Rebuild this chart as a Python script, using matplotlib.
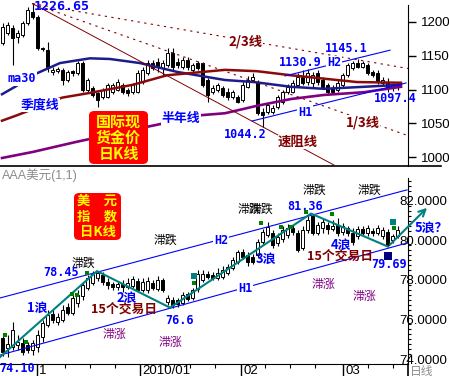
import numpy as np
import matplotlib.pyplot as plt
from matplotlib.patches import FancyBboxPatch
from matplotlib.lines import Line2D

W, H = 449, 376

# gold daily candles (top panel), one per trading day
gold_open = [1169, 1183, 1191, 1177, 1180, 1198, 1214, 1207, 1161, 1158,
             1126, 1128, 1129, 1114, 1127, 1124, 1139, 1099, 1102, 1095,
             1089, 1089, 1096, 1099, 1107, 1099, 1096, 1096, 1111, 1124,
             1139, 1140, 1132, 1136, 1154, 1140, 1133, 1143, 1129, 1139,
             1139, 1114, 1096, 1099, 1102, 1096, 1089, 1089, 1085, 1104,
             1114, 1111, 1067, 1067, 1067, 1074, 1082, 1096, 1096, 1107,
             1118, 1111, 1110, 1124, 1114, 1107, 1102, 1099, 1107, 1121,
             1132, 1139, 1133, 1136, 1126, 1124, 1110, 1111, 1102, 1104]
gold_close = [1192, 1195, 1176, 1183, 1198, 1217, 1207, 1161, 1160, 1133,
              1129, 1130, 1114, 1126, 1124, 1139, 1099, 1114, 1092, 1085,
              1099, 1107, 1107, 1111, 1096, 1095, 1107, 1124, 1129, 1139,
              1132, 1133, 1139, 1154, 1133, 1136, 1143, 1133, 1136, 1132,
              1107, 1092, 1102, 1107, 1092, 1089, 1096, 1082, 1107, 1114,
              1118, 1065, 1062, 1077, 1073, 1089, 1096, 1104, 1110, 1118,
              1110, 1124, 1121, 1111, 1104, 1096, 1096, 1110, 1121, 1136,
              1139, 1133, 1139, 1124, 1121, 1111, 1114, 1104, 1107, 1108]
gold_high = [1198, 1199, 1195, 1188, 1201, 1221, 1226.65, 1210, 1163, 1170,
             1133, 1133, 1131, 1129, 1129, 1142, 1142, 1117, 1105, 1096,
             1102, 1110, 1109, 1115, 1109, 1102, 1109, 1129, 1133, 1143,
             1143, 1146, 1143, 1161, 1161, 1146, 1148, 1148, 1139, 1142,
             1140, 1117, 1107, 1109, 1105, 1102, 1099, 1092, 1111, 1120,
             1125, 1114, 1073, 1080, 1077, 1092, 1099, 1108, 1114, 1124,
             1129, 1130.9, 1126, 1129, 1118, 1109, 1107, 1114, 1124, 1139,
             1142, 1145.1, 1142, 1139, 1129, 1129, 1118, 1117, 1109, 1111]
gold_low = [1166, 1180, 1136, 1169, 1177, 1195, 1204, 1158, 1157, 1126,
            1122, 1124, 1107, 1111, 1120, 1121, 1096, 1095, 1089, 1074,
            1086, 1088, 1094, 1098, 1094, 1090, 1094, 1095, 1108, 1121,
            1129, 1126, 1121, 1133, 1129, 1132, 1130, 1129, 1126, 1129,
            1104, 1082, 1094, 1096, 1089, 1085, 1086, 1080, 1082, 1102,
            1111, 1062, 1044.2, 1064, 1064, 1071, 1079, 1094, 1095, 1104,
            1107, 1107, 1104, 1107, 1102, 1094, 1095, 1097, 1104, 1118,
            1129, 1132, 1131, 1121, 1118, 1108, 1107, 1096, 1097.4, 1100]

# moving averages: (day index, price)
ma30_x = [-0.1, 2.5, 6.9, 11.5, 17.5, 21.5, 27.5, 34.9, 44.5, 50.3, 57.7, 64.3, 72.3, 79.7]
ma30_y = [1093, 1104, 1124, 1139, 1146, 1145, 1139, 1126, 1114, 1111, 1104, 1101, 1104, 1107]
ma_quarter_x = [-0.1, 2.9, 11.9, 17.5, 26.1, 32.9, 44.5, 50.9, 57.7, 64.3, 70.9, 79.7]
ma_quarter_y = [1054, 1062, 1088, 1095, 1107, 1121, 1129, 1127, 1121, 1116, 1111, 1110]
ma_half_x = [-0.1, 6.1, 14.9, 28.9, 30.9, 39.5, 44.5, 50.9, 57.7, 64.3, 72.3, 79.7]
ma_half_y = [999, 1008, 1023, 1045, 1048, 1062, 1065, 1076, 1086, 1092, 1096, 1104]

# gold trend lines
fan_x = [6, 81.1]
fan_23 = [1226.65, 1131]
fan_13 = [1226.65, 1032]
resist_x = [6, 66.3]
resist_y = [1226.65, 988.6]
gold_h2_x = [56.5, 77.5]
gold_h2_y = [1120, 1158]
gold_h1_x = [49.9, 80.7]
gold_h1_y = [1053.5, 1109.6]
gold_ticks = [1000, 1050, 1100, 1150, 1200]

# US dollar index daily candles (bottom panel)
usd_open = [75.06, 74.56, 74.61, 74.71, 74.81, 74.71, 74.46, 74.61, 75.11, 75.72,
            76.28, 75.87, 75.97, 76.63, 76.33, 76.84, 77.19, 77.59, 77.85, 78.10,
            78.25, 77.90, 77.80, 77.65, 77.80, 77.65, 77.70, 77.95, 77.49, 77.49,
            77.85, 77.54, 78.00, 76.89, 76.99, 76.99, 76.84, 77.29, 77.09, 77.54,
            78.00, 78.30, 78.25, 78.10, 78.15, 78.35, 78.61, 78.91, 79.42, 79.27,
            79.16, 79.27, 79.92, 80.28, 80.38, 79.87, 80.08, 80.28, 80.63, 80.38,
            79.62, 80.53, 81.24, 80.38, 80.63, 80.78, 80.58, 80.78, 80.43, 80.63,
            80.38, 80.23, 80.58, 80.38, 80.48, 80.38, 80.23, 80.43, 80.03, 80.23]
usd_close = [74.35, 74.76, 75.47, 74.86, 74.35, 74.46, 74.81, 75.22, 75.82, 76.23,
             75.97, 76.13, 76.48, 76.33, 77.09, 77.24, 77.75, 78.10, 78.30, 78.35,
             77.90, 77.75, 77.65, 77.80, 77.65, 77.85, 78.05, 77.49, 77.90, 77.95,
             77.59, 78.00, 77.49, 77.09, 76.73, 76.78, 77.24, 77.04, 77.49, 78.30,
             78.30, 78.15, 78.10, 78.35, 78.51, 78.66, 79.01, 79.42, 79.16, 78.91,
             78.91, 79.92, 80.43, 80.68, 79.77, 80.18, 80.53, 80.63, 80.43, 79.52,
             80.53, 81.04, 80.38, 80.78, 80.94, 80.58, 80.73, 80.38, 80.73, 80.38,
             79.92, 80.58, 80.38, 80.63, 80.38, 80.63, 80.53, 79.77, 80.23, 80.53]
usd_high = [75.32, 75.22, 75.87, 75.22, 75.06, 74.86, 74.96, 75.47, 75.97, 76.48,
            76.48, 76.33, 76.73, 76.84, 77.24, 77.49, 77.90, 78.25, 78.43, 78.45,
            78.40, 78.10, 77.90, 77.90, 78.00, 78.10, 78.20, 78.10, 78.10, 78.15,
            78.00, 78.20, 78.10, 77.24, 77.14, 77.09, 77.39, 77.39, 77.59, 78.51,
            78.51, 78.45, 78.40, 78.61, 78.71, 78.81, 79.16, 79.52, 79.57, 79.42,
            79.32, 80.08, 80.58, 80.94, 80.53, 80.38, 80.73, 80.83, 80.78, 80.53,
            80.73, 81.24, 81.36, 80.94, 81.14, 80.94, 81.04, 81.14, 80.89, 80.73,
            80.63, 80.73, 80.73, 80.78, 80.63, 80.78, 80.68, 80.58, 80.33, 80.73]
usd_low = [74.15, 74.10, 74.46, 74.46, 74.20, 74.30, 74.20, 74.35, 74.86, 75.62,
           75.82, 75.72, 75.87, 76.23, 76.23, 76.63, 76.99, 77.49, 77.75, 77.95,
           77.75, 77.54, 77.49, 77.49, 77.39, 77.54, 77.59, 77.39, 77.39, 77.34,
           77.49, 77.44, 77.39, 76.73, 76.60, 76.63, 76.73, 76.94, 76.99, 77.39,
           77.90, 78.05, 78.00, 78.00, 78.05, 78.25, 78.51, 78.81, 79.06, 78.71,
           78.81, 79.16, 79.82, 80.18, 79.62, 79.72, 79.92, 80.13, 80.28, 79.42,
           79.52, 80.38, 80.28, 80.28, 80.38, 80.33, 80.48, 80.23, 80.28, 80.23,
           79.77, 80.08, 80.23, 80.23, 80.23, 80.28, 80.08, 79.69, 79.87, 80.13]

# wave count line and channel
wave_x = [-0.5, 18.9, 33.5, 61.7, 77.1]
wave_y = [74.10, 78.45, 76.60, 81.36, 79.69]
wave5_end = (85.3, 81.75)
usd_h2_x = [-0.5, 80.9]
usd_h2_y = [77.09, 82.56]
usd_h1_x = [-0.5, 80.9]
usd_h1_y = [74.20, 79.87]
green_x = [0.5, 4.7, 13.9, 14.9, 16.9, 38.3, 51.7, 55.7, 57.7, 60.7, 65.9, 78.3]
green_y = [75.22, 74.86, 77.29, 77.24, 78.35, 77.85, 80.89, 80.68, 80.68, 81.44, 81.34, 80.63]
teal_x = [38.3, 78.1]
teal_y = [78.20, 80.94]
navy_x = [77.1]
navy_y = [79.22]
usd_ticks = [74, 76, 78, 80, 82]
month_pos = [6.9, 27.5, 47.7, 68.1]
month_labels = ['1', '2010/01', '02', '03']
week_pos = [12.5, 17.5, 22.5, 32.5, 37.5, 42.5, 52.5, 57.5, 62.5, 73, 78]

CJK = ['Noto Sans CJK SC', 'DejaVu Sans']
MONO = ['DejaVu Sans Mono']
NARROW = ['Liberation Sans Narrow', 'Liberation Sans', 'Noto Sans CJK SC']
BLUE = '#0000ff'
DRED = '#800000'
PURPLE = '#800080'
TEAL = '#008080'

plt.rcParams['font.family'] = ['Liberation Sans', 'Noto Sans CJK SC']

fig = plt.figure(figsize=(W / 100, H / 100), dpi=100)


def px_axes(x0, y0, x1, y1):
    return fig.add_axes([x0 / W, 1 - y1 / H, (x1 - x0) / W, (y1 - y0) / H])


def ptext(px, py, s, **kw):
    kw.setdefault('ha', 'center')
    kw.setdefault('va', 'center')
    return fig.text(px / W, 1 - py / H, s, **kw)


def candles(ax, o, h, l, c):
    o, h, l, c = map(np.asarray, (o, h, l, c))
    x = np.arange(len(o))
    ax.vlines(x, l, h, color='black', lw=0.8, zorder=2)
    up = c >= o
    bottom = np.minimum(o, c)
    height = np.maximum(np.abs(c - o), (h.max() - l.min()) * 0.004)
    ax.bar(x[up], height[up], bottom=bottom[up], width=0.74, facecolor='white',
           edgecolor='black', lw=0.7, zorder=2.1)
    ax.bar(x[~up], height[~up], bottom=bottom[~up], width=0.74, facecolor='black',
           edgecolor='black', lw=0.7, zorder=2.1)


def red_box(x0, y0, x1, y1, lines, size, ys):
    fig.add_artist(FancyBboxPatch((x0 / W, 1 - y1 / H), (x1 - x0) / W, (y1 - y0) / H,
                                  boxstyle='round,pad=0,rounding_size=0.012',
                                  transform=fig.transFigure, fc='#ff0000', ec='none'))
    for s, yy in zip(lines, ys):
        ptext((x0 + x1) / 2, yy, s, color='#ffff00', fontsize=size,
              fontweight='bold', family=CJK, zorder=5)


# ---------------- top: gold ----------------
ax1 = px_axes(0, 0, 408, 166)
candles(ax1, gold_open, gold_high, gold_low, gold_close)
ax1.plot(ma30_x, ma30_y, color='#1c1c8c', lw=1.8, zorder=3)
ax1.plot(ma_quarter_x, ma_quarter_y, color='#8b0a0a', lw=1.8, zorder=3)
ax1.plot(ma_half_x, ma_half_y, color=PURPLE, lw=1.9, zorder=3)
ax1.plot(fan_x, fan_23, color=DRED, lw=0.8, ls=(0, (2, 4)), zorder=3)
ax1.plot(fan_x, fan_13, color=DRED, lw=0.8, ls=(0, (2, 4)), zorder=3)
ax1.plot(resist_x, resist_y, color=DRED, lw=0.7, zorder=3)
ax1.plot(gold_h2_x, gold_h2_y, color=BLUE, lw=0.8, zorder=3)
ax1.plot(gold_h1_x, gold_h1_y, color=BLUE, lw=0.8, zorder=3)

ax1.set_xlim(-0.5, 81.1)
ax1.set_ylim(987.2, 1232)
ax1.yaxis.tick_right()
ax1.set_yticks(gold_ticks)
ax1.tick_params(axis='y', length=6, width=1, pad=3, labelsize=9.5)
for t in ax1.get_yticklabels():
    t.set_family(NARROW)
ax1.set_xticks([])
for side in ['left', 'top', 'bottom']:
    ax1.spines[side].set_visible(False)
ax1.spines['right'].set_bounds(987.2, 1224.6)
fig.add_artist(Line2D([0, 441 / W], [1 - 166 / H] * 2, color='black', lw=1.2))

wbg = dict(fc='white', ec='none', pad=0.3)
ptext(62, 6, '1226.65', color=BLUE, fontsize=9.5, fontweight='bold', family=MONO)
ptext(22, 79, 'ma30', color=BLUE, fontsize=8.5, fontweight='bold', family=MONO, bbox=wbg)
ptext(40, 105, '季度线', color=BLUE, fontsize=9.3, fontweight='bold', family=CJK, bbox=wbg)
ptext(181, 118, '半年线', color=BLUE, fontsize=9.3, fontweight='bold', family=CJK, bbox=wbg)
ptext(245, 135, '1044.2', color=BLUE, fontsize=8.5, fontweight='bold', family=MONO)
ptext(298, 142, '速阻线', color=DRED, fontsize=9.6, fontweight='bold', family=CJK, bbox=wbg)
ptext(363, 122, '1/3线', color=DRED, fontsize=9.6, fontweight='bold', family=CJK, bbox=wbg)
ptext(246, 42, '2/3线', color=DRED, fontsize=9.6, fontweight='bold', family=CJK, bbox=wbg)
ptext(346, 48, '1145.1', color=BLUE, fontsize=8.5, fontweight='bold', family=MONO)
ptext(300, 62, '1130.9', color=BLUE, fontsize=8.5, fontweight='bold', family=MONO)
ptext(334, 63, 'H2', color=BLUE, fontsize=8.5, fontweight='bold', family=MONO, bbox=wbg)
ptext(305, 112, 'H1', color=BLUE, fontsize=8.5, fontweight='bold', family=MONO, bbox=wbg)
ptext(395, 98, '1097.4', color=BLUE, fontsize=8.5, fontweight='bold', family=MONO, zorder=6)
red_box(89, 111, 148, 164, ['国际现', '货金价', '日K线'], 10.8, [122, 138, 154])

# ---------------- bottom: US dollar index ----------------
ax2 = px_axes(0, 178, 408, 364)
candles(ax2, usd_open, usd_high, usd_low, usd_close)
ax2.plot(usd_h2_x, usd_h2_y, color=BLUE, lw=0.8, zorder=3)
ax2.plot(usd_h1_x, usd_h1_y, color=BLUE, lw=0.8, zorder=3)
ax2.plot(wave_x, wave_y, color=TEAL, lw=1.5, zorder=4)
ax2.annotate('', xy=wave5_end, xytext=(wave_x[-1], wave_y[-1]),
             arrowprops=dict(arrowstyle='->', color=TEAL, lw=1.5, mutation_scale=12),
             annotation_clip=False, zorder=4)
ax2.scatter(green_x, green_y, marker='s', s=5, color='#008000', zorder=4, lw=0)
ax2.scatter(teal_x, teal_y, marker='s', s=22, color=TEAL, zorder=4, lw=0)
ax2.scatter(navy_x, navy_y, marker='s', s=26, color='#000080', zorder=4, lw=0)

ax2.set_xlim(-0.5, 81.1)
ax2.set_ylim(73.75, 83.16)
ax2.yaxis.tick_right()
ax2.set_yticks(usd_ticks, [f'{v:.4f}' for v in usd_ticks])
ax2.set_yticks(np.arange(74, 83.2, 0.25), minor=True)
ax2.tick_params(axis='y', which='major', length=0, pad=-6, labelsize=9.5)
ax2.tick_params(axis='y', which='minor', length=2, width=0.8)
for t in ax2.get_yticklabels():
    t.set_family(NARROW)
ax2.set_xticks(week_pos, minor=True)
ax2.set_xticks(month_pos, [''] * len(month_pos))
ax2.tick_params(axis='x', which='major', length=12, width=1)
ax2.tick_params(axis='x', which='minor', length=3, width=0.8)
for pos, lab in zip(month_pos, month_labels):
    ax2.annotate(lab, xy=(pos, 0), xycoords=('data', 'axes fraction'),
                 xytext=(2, -1), textcoords='offset pixels', ha='left', va='top',
                 fontsize=9.5, family=NARROW, annotation_clip=False)
for side in ['left', 'top']:
    ax2.spines[side].set_visible(False)
fig.add_artist(Line2D([408 / W] * 2, [0, 1 - 364 / H], color='black', lw=1.2))

ptext(2, 175, 'AAA美元(1,1)', ha='left', color='#8c8c8c', fontsize=9, family=NARROW)
ptext(410, 372, '日线', ha='left', color='#8c8c8c', fontsize=8.5, family=CJK)
red_box(74, 193, 121, 240, ['美　元', '指　数', '日K线'], 9.6, [201, 217, 232])

black_kw = dict(color='black', fontsize=8.6, family=CJK)
ptext(165, 240, '滞跌', **black_kw)
ptext(83, 263, '滞跌', **black_kw)
ptext(249, 209, '滞跌', **black_kw)
ptext(261, 209, '滞跌', **black_kw)
ptext(314, 190, '滞跌', **black_kw)
ptext(369, 190, '滞跌', **black_kw)
purple_kw = dict(color=PURPLE, fontsize=8.6, family=CJK)
ptext(114, 334, '滞涨', **purple_kw)
ptext(170, 342, '滞涨', **purple_kw)
ptext(323, 284, '滞涨', **purple_kw)
ptext(364, 296, '滞涨', **purple_kw)

num_kw = dict(color=BLUE, fontsize=8.5, fontweight='bold', family=MONO)
ptext(61, 272, '78.45', **num_kw)
ptext(305, 206, '81.36', **num_kw)
ptext(179, 321, '76.6', **num_kw)
ptext(389, 264, '79.69', **num_kw)
ptext(17, 368, '74.10', **num_kw)
ptext(221, 241, 'H2', bbox=wbg, **num_kw)
ptext(245, 288, 'H1', bbox=wbg, **num_kw)

wave_kw = dict(color=BLUE, fontsize=9.3, fontweight='bold', family=CJK)
ptext(37, 308, '1浪', **wave_kw)
ptext(127, 298, '2浪', **wave_kw)
ptext(266, 259, '3浪', **wave_kw)
ptext(341, 245, '4浪', **wave_kw)
ptext(431, 228, '5浪？', **wave_kw)
ptext(124, 310, '15个交易日', color=DRED, fontsize=9.2, fontweight='bold', family=CJK)
ptext(340, 257, '15个交易日', color=DRED, fontsize=9.2, fontweight='bold', family=CJK)

fig.savefig('out.png', dpi=100, facecolor='white')
